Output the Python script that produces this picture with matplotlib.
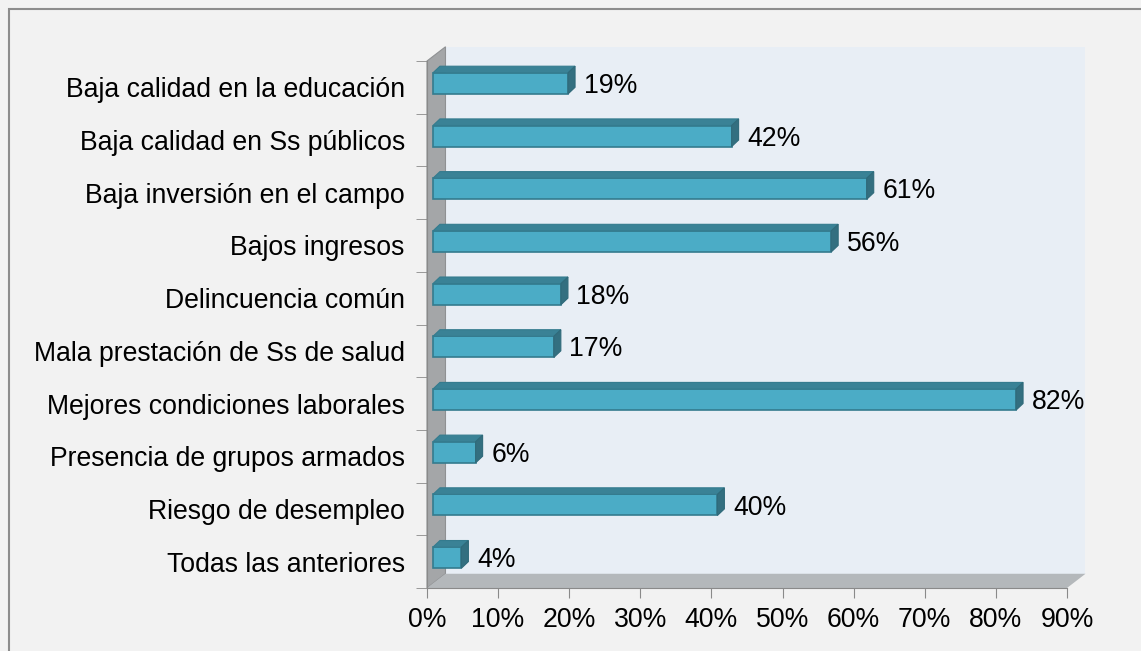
import matplotlib
matplotlib.use("Agg")
import matplotlib.pyplot as plt
from matplotlib.patches import Polygon, Rectangle
import numpy as np

categorias = ["Baja calidad en la educación", "Baja calidad en Ss públicos",
              "Baja inversión en el campo", "Bajos ingresos", "Delincuencia común",
              "Mala prestación de Ss de salud", "Mejores condiciones laborales",
              "Presencia de grupos armados", "Riesgo de desempleo", "Todas las anteriores"]
valores = [19, 42, 61, 56, 18, 17, 82, 6, 40, 4]
xticks = list(range(0, 100, 10))

plt.rcParams['font.family'] = ['Liberation Sans', 'DejaVu Sans']

n = len(categorias)
pos = np.arange(n)[::-1]          # first category on top

# depth of the 3d box (data units: percent / rows)
DX, DY = 2.6, 0.27
# bar placement inside the depth
BX0, BY0 = 0.84, 0.076
BDX, BDY = 0.98, 0.125
BH = 0.40

fig = plt.figure(figsize=(11.41, 6.51), dpi=100, facecolor="#f2f2f2")
fig.patches.append(Rectangle((9 / 1141, -0.1), 1.2, 1 - 9 / 651 + 0.1, transform=fig.transFigure,
                             fill=False, edgecolor="#8c8c8c", lw=1.5))
ax = fig.add_axes([427 / 1141, 63 / 651, 640 / 1141, 527 / 651])
ax.set_facecolor("none")
ax.set_xlim(0, 90)
ax.set_ylim(-0.5, n - 0.5)

top = n - 0.5
bot = -0.5
# back wall
ax.add_patch(Polygon([(DX, bot + DY), (90 + DX, bot + DY), (90 + DX, top + DY), (DX, top + DY)],
                     closed=True, facecolor="#e8eef5", edgecolor="none", clip_on=False, zorder=0))
# left wall
ax.add_patch(Polygon([(0, bot), (0, top), (DX, top + DY), (DX, bot + DY)],
                     closed=True, facecolor="#a4a6a8", edgecolor="#8f9193", lw=0.8, clip_on=False, zorder=1))
# floor
ax.add_patch(Polygon([(0, bot), (90, bot), (90 + DX, bot + DY), (DX, bot + DY)],
                     closed=True, facecolor="#b4b8bb", edgecolor="none", clip_on=False, zorder=1))

ax.barh(pos + BY0, valores, left=BX0, height=BH, color="#4bacc6",
        edgecolor="#347b8e", lw=1.2, zorder=3, clip_on=False)
for y, v in zip(pos, valores):
    yc = y + BY0
    x0, x1 = BX0, BX0 + v
    y0, y1 = yc - BH / 2, yc + BH / 2
    ax.add_patch(Polygon([(x0, y1), (x1, y1), (x1 + BDX, y1 + BDY), (x0 + BDX, y1 + BDY)],
                         closed=True, facecolor="#3a8296", edgecolor="#347b8e", lw=0.8,
                         zorder=3, clip_on=False))
    ax.add_patch(Polygon([(x1, y0), (x1, y1), (x1 + BDX, y1 + BDY), (x1 + BDX, y0 + BDY)],
                         closed=True, facecolor="#336f80", edgecolor="#2f6a7a", lw=0.8,
                         zorder=3, clip_on=False))
    ax.text(x1 + BDX + 1.2, yc - 0.05, f"{v}%", va="center", ha="left", fontsize=19.2,
            color="black", zorder=4)

for s in ["top", "right"]:
    ax.spines[s].set_visible(False)
ax.spines["left"].set_color("#8a8a8a")
ax.spines["bottom"].set_color("#8a8a8a")

ax.set_xticks(xticks)
ax.set_xticklabels([f"{t}%" for t in xticks], fontsize=19.2)
ax.tick_params(axis="x", length=7, color="#8a8a8a", pad=7)

ax.set_yticks(pos)
ax.set_yticklabels(categorias, fontsize=19.2)
ax.tick_params(axis="y", which="major", length=0, pad=16)
ax.set_yticks(np.arange(n + 1) - 0.5, minor=True)
ax.tick_params(axis="y", which="minor", length=8, color="#8a8a8a")

fig.savefig("out.png", dpi=100, facecolor=fig.get_facecolor())
